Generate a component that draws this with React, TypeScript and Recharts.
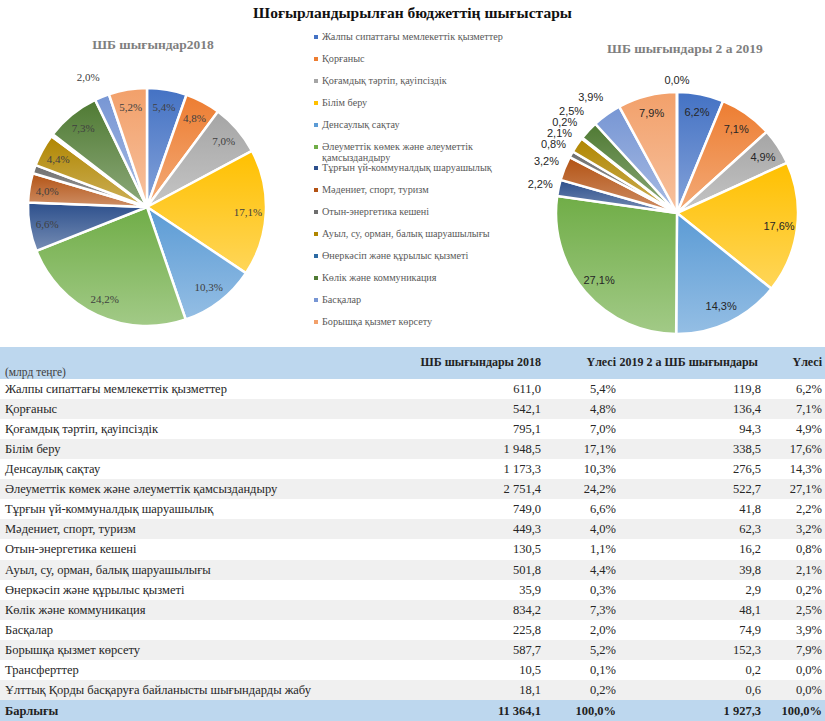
import React from "react";
import { PieChart, Pie, Cell } from "recharts";

// Budget expenditure categories (billion tenge)
const categories = [
  "Жалпы сипаттағы мемлекеттік қызметтер",
  "Қорғаныс",
  "Қоғамдық тәртіп, қауіпсіздік",
  "Білім беру",
  "Денсаулық сақтау",
  "Әлеуметтік көмек және әлеуметтік қамсыздандыру",
  "Тұрғын үй-коммуналдық шаруашылық",
  "Мәдениет, спорт, туризм",
  "Отын-энергетика кешені",
  "Ауыл, су, орман, балық шаруашылығы",
  "Өнеркәсіп және құрылыс қызметі",
  "Көлік және коммуникация",
  "Басқалар",
  "Борышқа қызмет көрсету",
  "Трансферттер",
  "Ұлттық Қорды басқаруға байланысты шығындарды жабу",
];

const amount2018 = [611.0, 542.1, 795.1, 1948.5, 1173.3, 2751.4, 749.0, 449.3, 130.5, 501.8, 35.9, 834.2, 225.8, 587.7, 10.5, 18.1];
const share2018 = [5.4, 4.8, 7.0, 17.1, 10.3, 24.2, 6.6, 4.0, 1.1, 4.4, 0.3, 7.3, 2.0, 5.2, 0.1, 0.2];
const amount2019 = [119.8, 136.4, 94.3, 338.5, 276.5, 522.7, 41.8, 62.3, 16.2, 39.8, 2.9, 48.1, 74.9, 152.3, 0.2, 0.6];
const share2019 = [6.2, 7.1, 4.9, 17.6, 14.3, 27.1, 2.2, 3.2, 0.8, 2.1, 0.2, 2.5, 3.9, 7.9, 0.0, 0.0];

const total2018 = "11 364,1";
const total2019 = "1 927,3";

const headers = ["ШБ шығындары 2018", "Үлесі", "2019 2 а ШБ шығындары", "Үлесі"];

const pieColors = [
  "#4472c4", "#ed7d31", "#a5a5a5", "#ffc000", "#5b9bd5", "#70ad47",
  "#2c4f8c", "#b35213", "#6e6e6e", "#b08600", "#2c6aa3", "#4f7a33",
  "#7796d4", "#f2a06a", "#bdbdbd",
];

const legendCount = 14;
const pie2018Count = 14;
const pie2019Count = 15;

function lighten(hex: string, t: number) {
  const n = parseInt(hex.slice(1), 16);
  const r = (n >> 16) & 255, g = (n >> 8) & 255, b = n & 255;
  const m = (c: number) => Math.round(c + (255 - c) * t);
  return `rgb(${m(r)},${m(g)},${m(b)})`;
}

function fmtNum(v: number) {
  const [i, d] = v.toFixed(1).split(".");
  const ii = i.replace(/\B(?=(\d{3})+(?!\d))/g, " ");
  return ii + "," + d;
}
function fmtPct(v: number) {
  return v.toFixed(1).replace(".", ",") + "%";
}

type LabelPos = { dx: number; dy: number; anchor: "start" | "middle" | "end" } | null;

// label offsets from pie centre; small slices go outside, pushed apart on each side
function layoutLabels(values: number[], shares: number[], r: number, minShow: number): LabelPos[] {
  const total = values.reduce((a, b) => a + b, 0);
  let acc = 0;
  const out: LabelPos[] = values.map((v, i) => {
    const mid = (acc + v / 2) / total;
    acc += v;
    const s = shares[i];
    if (s < minShow) return null;
    const th = mid * 2 * Math.PI;
    const cos = Math.sin(th);
    const sin = -Math.cos(th);
    if (s >= 4) return { dx: r * 0.85 * cos, dy: r * 0.85 * sin, anchor: "middle" };
    if (Math.abs(cos) < 0.25) return { dx: (r + 10) * cos, dy: (r + 12) * sin, anchor: "middle" };
    return { dx: (r + 6) * cos, dy: (r + 21) * sin, anchor: cos < 0 ? "end" : "start" };
  });
  (["end", "start"] as const).forEach((side) => {
    const idx = out
      .map((p, i) => ({ p, i }))
      .filter((o) => o.p && o.p.anchor === side && shares[o.i] < 4)
      .sort((a, b) => b.p!.dy - a.p!.dy);
    for (let k = 1; k < idx.length; k++) {
      const prev = idx[k - 1].p!;
      const cur = idx[k].p!;
      if (prev.dy - cur.dy < 11) cur.dy = prev.dy - 11;
    }
  });
  return out;
}

function makeLabel(pos: LabelPos[], shares: number[], font: string, color: string) {
  return (p: any) => {
    const l = pos[p.index];
    if (!l) return null;
    return (
      <text x={p.cx + l.dx} y={p.cy + l.dy} textAnchor={l.anchor} dominantBaseline="central" fill={color} fontSize={11} fontFamily={font}>
        {fmtPct(shares[p.index])}
      </text>
    );
  };
}

function Gradients({ prefix }: { prefix: string }) {
  return (
    <defs>
      {pieColors.map((c, i) => (
        <linearGradient key={i} id={`${prefix}${i}`} x1="0" y1="0" x2="0" y2="1">
          <stop offset="0%" stopColor={c} />
          <stop offset="100%" stopColor={lighten(c, 0.35)} />
        </linearGradient>
      ))}
    </defs>
  );
}

const data2018 = categories.slice(0, pie2018Count).map((name, i) => ({ name, value: amount2018[i] }));
const data2019 = categories.slice(0, pie2019Count).map((name, i) => ({ name, value: Math.max(amount2019[i], 0.0001) }));

const R1 = 119;
const R2 = 121;
const labels2018 = layoutLabels(data2018.map((d) => d.value), share2018, R1, 1.5);
const labels2019 = layoutLabels(data2019.map((d) => d.value), share2019, R2, -1);

const W = 825;

export default function App() {
  const serif = "'Liberation Serif', 'Times New Roman', serif";
  const sans = "'Liberation Sans', Arial, sans-serif";
  const rowH = 20.06;
  const tableTop = 347;
  const headH = 32;
  const colRight = [541, 616, 761, 822];
  const headRight = [541, 616, 758, 822];

  return (
    <div style={{ position: "absolute", left: 0, top: 0, width: W, height: 721, background: "#fff", fontFamily: serif, overflow: "hidden" }}>
      <div style={{ position: "absolute", left: 0, width: W, top: 4, textAlign: "center", fontWeight: "bold", fontSize: 15.5, color: "#111" }}>
        Шоғырландырылған бюджеттің шығыстары
      </div>

      <div style={{ position: "absolute", left: 0, width: 306, top: 37, textAlign: "center", fontWeight: "bold", fontSize: 13.5, color: "#7f7f7f" }}>
        ШБ шығындар2018
      </div>
      <div style={{ position: "absolute", left: 525, width: 320, top: 41, textAlign: "center", fontWeight: "bold", fontSize: 13.5, color: "#7f7f7f" }}>
        ШБ шығындары 2 а 2019
      </div>

      <div style={{ position: "absolute", left: 0, top: 0 }}>
        <PieChart width={300} height={345} margin={{ top: 0, right: 0, bottom: 0, left: 0 }}>
          <Gradients prefix="ga" />
          <Pie
            data={data2018}
            dataKey="value"
            cx={147}
            cy={207}
            outerRadius={R1}
            startAngle={90}
            endAngle={-270}
            stroke="#fff"
            strokeWidth={2.5}
            labelLine={false}
            label={makeLabel(labels2018, share2018, serif, "#404040")}
            isAnimationActive={false}
          >
            {data2018.map((_, i) => (
              <Cell key={i} fill={`url(#ga${i})`} />
            ))}
          </Pie>
        </PieChart>
      </div>

      <div style={{ position: "absolute", left: 525, top: 0 }}>
        <PieChart width={300} height={345} margin={{ top: 0, right: 0, bottom: 0, left: 0 }}>
          <Gradients prefix="gb" />
          <Pie
            data={data2019}
            dataKey="value"
            cx={152}
            cy={213}
            outerRadius={R2}
            startAngle={90}
            endAngle={-270}
            stroke="#fff"
            strokeWidth={2.5}
            labelLine={false}
            label={makeLabel(labels2019, share2019, sans, "#262626")}
            isAnimationActive={false}
          >
            {data2019.map((_, i) => (
              <Cell key={i} fill={`url(#gb${i})`} />
            ))}
          </Pie>
        </PieChart>
      </div>

      {categories.slice(0, legendCount).map((c, i) => (
        <div key={i} style={{ position: "absolute", left: 314, top: 38 + i * 21.9 - 7, width: 205, display: "flex", alignItems: "flex-start", fontSize: 10.2, color: "#595959", lineHeight: "11px" }}>
          <span style={{ display: "inline-block", width: 4, height: 4, background: pieColors[i], marginTop: 4, marginRight: 4, flex: "none" }} />
          <span style={{ width: 195 }}>{c}</span>
        </div>
      ))}

      <div style={{ position: "absolute", left: 0, top: tableTop, width: W, height: headH, background: "#bdd7ee" }}>
        <span style={{ position: "absolute", left: 5, top: 19, fontSize: 11.5, color: "#404040" }}>(млрд теңге)</span>
        {headers.map((h, i) => (
          <span key={i} style={{ position: "absolute", right: W - headRight[i], top: 8, fontSize: 12, fontWeight: "bold", color: "#222", whiteSpace: "nowrap" }}>
            {h}
          </span>
        ))}
      </div>

      {categories.map((c, i) => {
        const vals = [fmtNum(amount2018[i]), fmtPct(share2018[i]), fmtNum(amount2019[i]), fmtPct(share2019[i])];
        return (
          <div key={i} style={{ position: "absolute", left: 0, top: tableTop + headH + i * rowH, width: W, height: rowH, background: i % 2 === 1 ? "#f0f0f0" : "#fff", fontSize: 12.5, color: "#262626", lineHeight: `${rowH}px` }}>
            <span style={{ position: "absolute", left: 5, top: 0, whiteSpace: "nowrap" }}>{c}</span>
            {vals.map((v, j) => (
              <span key={j} style={{ position: "absolute", right: W - colRight[j], top: 0, whiteSpace: "nowrap" }}>{v}</span>
            ))}
          </div>
        );
      })}

      <div style={{ position: "absolute", left: 0, top: tableTop + headH + categories.length * rowH, width: W, height: 22, background: "#bdd7ee", fontSize: 12.5, fontWeight: "bold", color: "#222", lineHeight: "22px" }}>
        <span style={{ position: "absolute", left: 5 }}>Барлығы</span>
        {[total2018, "100,0%", total2019, "100,0%"].map((v, j) => (
          <span key={j} style={{ position: "absolute", right: W - colRight[j], whiteSpace: "nowrap" }}>{v}</span>
        ))}
      </div>
    </div>
  );
}
